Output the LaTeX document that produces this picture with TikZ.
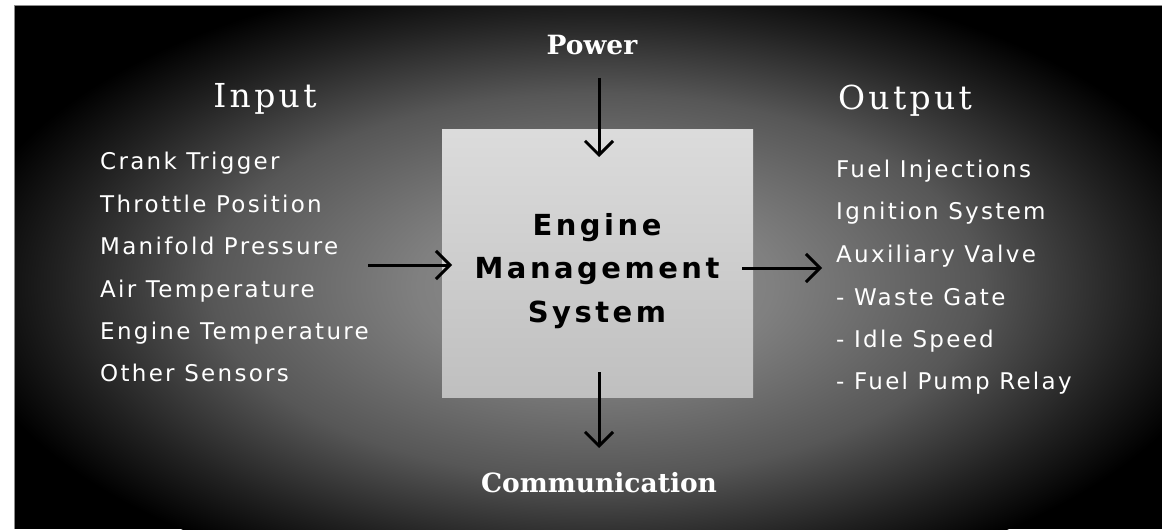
\documentclass[tikz,border=0pt]{standalone}
\usepackage{fontspec}
\usetikzlibrary{arrows.meta}

\newfontfamily\listfont[LetterSpace=10]{DejaVu Sans}
\newfontfamily\emsfont[LetterSpace=12]{DejaVu Sans}
\newfontfamily\headfont[LetterSpace=10]{DejaVu Serif}
\newfontfamily\tagfont{DejaVu Serif}

\definecolor{glowA}{gray}{0.58}
\definecolor{glowB}{gray}{0.50}
\definecolor{glowC}{gray}{0.34}
\definecolor{glowD}{gray}{0.13}
\definecolor{framegray}{gray}{0.55}
\definecolor{boxtop}{gray}{0.86}
\definecolor{boxbottom}{gray}{0.75}

% soft grey glow behind the diagram; TikZ fits the inner 25bp radius to the path
\pgfdeclareradialshading{glow}{\pgfpointorigin}{%
  color(0bp)=(glowA); color(7bp)=(glowB); color(15bp)=(glowC);
  color(21bp)=(glowD); color(25bp)=(black); color(50bp)=(black)}

\begin{document}
\begin{tikzpicture}[x=1pt,y=-1pt,
  heading/.style={text=white, inner sep=0pt, anchor=base,
    font=\headfont\fontsize{33}{36}\selectfont},
  tag/.style={text=white, inner sep=0pt, anchor=base,
    font=\tagfont\bfseries\fontsize{26.5}{30}\selectfont},
  item/.style={text=white, inner sep=0pt, anchor=base west,
    font=\listfont\fontsize{23}{27}\selectfont},
  emsline/.style={text=black, inner sep=0pt, anchor=base,
    font=\emsfont\bfseries\fontsize{29}{32}\selectfont},
  emsbox/.style={draw=none, top color=boxtop, bottom color=boxbottom,
    inner sep=0pt, minimum width=311pt, minimum height=267pt},
  arr/.style={draw=black, line width=3pt,
    -{Straight Barb[length=14pt,width=28pt,line width=3pt]}}
]
\useasboundingbox (0,0) rectangle (1162,532);
\fill[white] (0,0) rectangle (1162,532);
\fill[black] (14,6) rectangle (1162,529);
\begin{scope}
  \clip (14,6) rectangle (1162,529);
  \shade[shading=glow] (595,285) ellipse [x radius=640, y radius=320];
\end{scope}
\draw[framegray, line width=1pt] (14,529) -- (14,6) -- (1162,6);

% central block
\node[emsbox] (ems) at (597.5,263.5) {};
\node[emsline] (emsA) at (597,235) {Engine};
\node[emsline] (emsB) at (597,278) {Management};
\node[emsline] (emsC) at (597,322) {System};

% headings
\node[heading] (input) at (265,108) {Input};
\node[heading] (output) at (905,110) {Output};
\node[tag] (power) at (592,55) {Power};
\node[tag] (comm) at (599,492) {Communication};

% inputs
\node[item] (in1) at (100,170) {Crank Trigger};
\node[item] (in2) at (100,212) {Throttle Position};
\node[item] (in3) at (100,254) {Manifold Pressure};
\node[item] (in4) at (100,297) {Air Temperature};
\node[item] (in5) at (100,339) {Engine Temperature};
\node[item] (in6) at (100,381) {Other Sensors};

% outputs
\node[item] (out1) at (836,177) {Fuel Injections};
\node[item] (out2) at (836,219) {Ignition System};
\node[item] (out3) at (836,262) {Auxiliary Valve};
\node[item] (out4) at (836,305) {- Waste Gate};
\node[item] (out5) at (836,347) {- Idle Speed};
\node[item] (out6) at (836,389) {- Fuel Pump Relay};

% connector ends
\coordinate (pwrStart) at (599,78);
\coordinate (pwrEnd) at (599,157);
\coordinate (commStart) at (599,372);
\coordinate (commEnd) at (599,448);
\coordinate (inStart) at (368,265);
\coordinate (inEnd) at (452,265);
\coordinate (outStart) at (742,268);
\coordinate (outEnd) at (822,268);

\draw[arr] (pwrStart) -- (pwrEnd);
\draw[arr] (commStart) -- (commEnd);
\draw[arr] (inStart) -- (inEnd);
\draw[arr] (outStart) -- (outEnd);
\end{tikzpicture}
\end{document}
